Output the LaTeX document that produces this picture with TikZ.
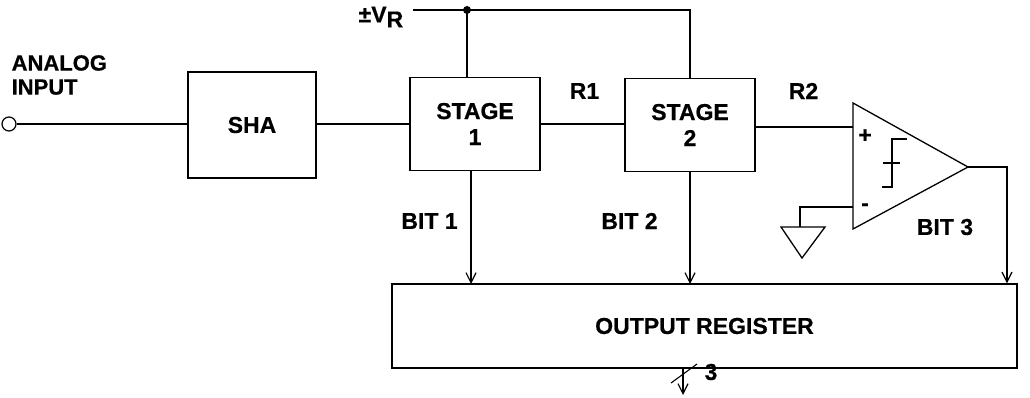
\documentclass[tikz,border=0pt]{standalone}
\usepackage{fontspec}
\setmainfont{Liberation Sans}[BoldFeatures={FakeBold=0.6}]
\usetikzlibrary{arrows.meta}
\begin{document}
\begin{tikzpicture}[x=1pt,y=-1pt,line width=1.3pt,
  lbl/.style={font=\fontsize{23}{25}\selectfont\bfseries, inner sep=0pt},
  blk/.style={draw, rectangle, inner sep=0pt, font=\fontsize{23}{26}\selectfont\bfseries, align=center},
  arr/.style={-{Straight Barb[length=10pt,width=10pt,line width=1.2pt]}}]
\useasboundingbox (0,0) rectangle (1030,398);
% blocks
\node[blk, minimum width=128pt, minimum height=106pt] (sha) at (252,125) {SHA};
\node[blk, minimum width=130pt, minimum height=93pt] (s1) at (475,124) {STAGE\\1};
\node[blk, minimum width=130pt, minimum height=93pt] (s2) at (690,125) {STAGE\\2};
\node[blk, minimum width=625pt, minimum height=84pt] (reg) at (704.5,326) {OUTPUT REGISTER};
% input terminal
\node[draw, circle, minimum size=14pt, inner sep=0pt, line width=1.2pt] (in) at (9,124) {};
\node[lbl, anchor=west, align=left, font=\fontsize{22}{24}\selectfont\bfseries] (inlbl) at (11,75) {ANALOG\\INPUT};
\draw (in.east) -- (sha.west |- in.east);
\draw (sha.east |- s1.west) -- (s1.west);
\draw (s1.east) -- (s2.west |- s1.east);
% reference
\node[lbl, anchor=west] (vr) at (358,17) {±V\raisebox{-5pt}{R}};
\coordinate (vstart) at (413,10);
\coordinate (dot) at (467,10);
\coordinate (vend) at (690,10);
\draw (vstart) -- (vend) -- (s2.north);
\draw (dot) -- (dot |- s1.north);
\fill (dot) circle (4pt);
\node[lbl] (r1) at (584.5,91) {R1};
\node[lbl] (r2) at (803.5,91) {R2};
% comparator
\coordinate (ctop) at (853,103);
\coordinate (cbot) at (853,229);
\coordinate (cout) at (968,167);
\coordinate (cplus) at (853,127);
\coordinate (cminus) at (853,207);
\draw[line join=miter] (ctop) -- (cout) -- (cbot) -- cycle;
\draw (s2.east |- cplus) -- (cplus);
\node[lbl] (plus) at (865,136) {+};
\node[lbl] (minus) at (865,207) {-};
% step symbol
\draw[line width=1.1pt] (907,139) -- (892,139) -- (892,187) -- (882,187);
\draw[line width=1.1pt] (883,163) -- (900,163);
% ground
\coordinate (gnd) at (800,227);
\draw (cminus) -- (800,207) -- (gnd);
\draw[line join=miter] (781,227) -- (825,227) -- (802,258) -- cycle;
% bits
\coordinate (o3) at (1007,167);
\draw[arr] (cout) -- (o3) -- (o3 |- reg.north);
\draw[arr] (471,170) -- (471,284);
\draw[arr] (690,171) -- (690,284);
\node[lbl] (b1) at (429.5,221) {BIT 1};
\node[lbl] (b2) at (629.5,221) {BIT 2};
\node[lbl] (b3) at (945,227) {BIT 3};
% output
\coordinate (oend) at (683,395);
\draw[arr] (683,368) -- (oend);
\draw[line width=1.1pt] (671,383) -- (697,364);
\node[lbl] (three) at (711,372) {3};
\end{tikzpicture}
\end{document}
